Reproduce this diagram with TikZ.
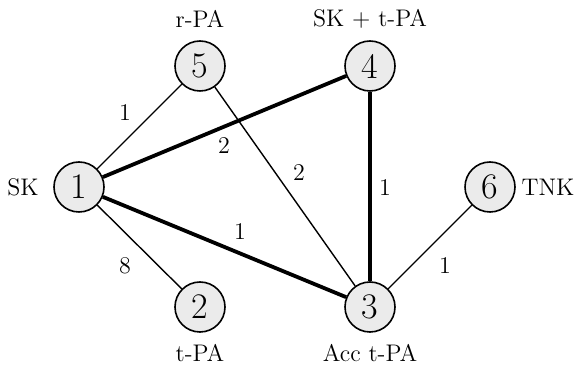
\documentclass[tikz,border=0pt]{standalone}
\begin{document}
\begin{tikzpicture}[x=0.5pt,y=-0.5pt,
  vert/.style={circle,draw=black,line width=0.8pt,fill=black!8,minimum size=25pt,inner sep=0pt,font=\fontsize{18}{20}\selectfont},
  thin/.style={line width=0.7pt},
  heavy/.style={line width=1.9pt},
  lab/.style={font=\large},
  wt/.style={font=\large}]
\useasboundingbox (0,0) rectangle (584,368);
\node[vert] (n1) at (79,187) {1};
\node[vert] (n5) at (200,66) {5};
\node[vert] (n4) at (370,66) {4};
\node[vert] (n6) at (490,187) {6};
\node[vert] (n3) at (370,307) {3};
\node[vert] (n2) at (200,307) {2};
\node[lab] (l1) at (23,187) {SK};
\node[lab] (l5) at (200,19) {r-PA};
\node[lab] (l4) at (370,19) {SK + t-PA};
\node[lab] (l6) at (548,187) {TNK};
\node[lab] (l2) at (200,353) {t-PA};
\node[lab] (l3) at (370,353) {Acc t-PA};
\draw[thin] (n1) -- (n5);
\draw[thin] (n5) -- (n3);
\draw[thin] (n1) -- (n2);
\draw[thin] (n3) -- (n6);
\draw[heavy] (n1) -- (n4);
\draw[heavy] (n1) -- (n3);
\draw[heavy] (n4) -- (n3);
\node[wt] (w15) at (125,113) {1};
\node[wt] (w14) at (224,146) {2};
\node[wt] (w53) at (299,173) {2};
\node[wt] (w43) at (385,188) {1};
\node[wt] (w13) at (240,232) {1};
\node[wt] (w12) at (125,266) {8};
\node[wt] (w36) at (445,266) {1};
\end{tikzpicture}
\end{document}
